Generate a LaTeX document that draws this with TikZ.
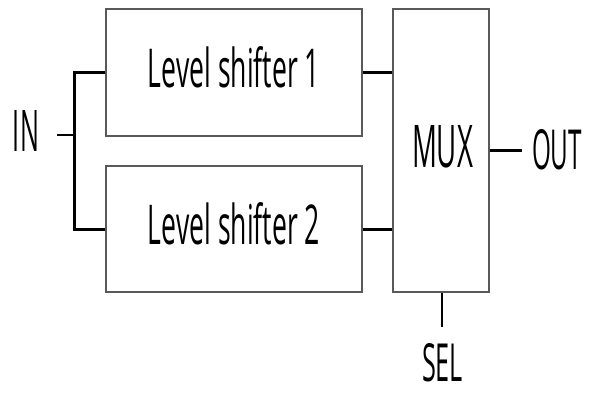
\documentclass[tikz,border=0pt]{standalone}
\usepackage{fontspec}
\setmainfont{Open Sans}
\usepackage{graphicx}
\newcommand\fittext[3]{\resizebox{#1pt}{#2pt}{#3}}
\begin{document}
\begin{tikzpicture}[x=1pt,y=-1pt,
  blk/.style={draw=black!65,line width=1.3pt,rectangle,inner sep=0pt,fill=none},
  lbl/.style={inner sep=0pt,outer sep=0pt},
  wire/.style={line width=3pt,black},
  thinwire/.style={line width=1.4pt,black}]
\useasboundingbox (0,0) rectangle (589,392);
\node[blk,minimum width=256pt,minimum height=127pt] (b1) at (234,72.5) {};
\node[blk,minimum width=256pt,minimum height=126pt] (b2) at (234,229) {};
\node[blk,minimum width=96pt,minimum height=283pt] (mux) at (441,150.5) {};
\node[lbl] (t1) at (234,67.5) {\fittext{172}{41}{Level shifter 1}};
\node[lbl] (t2) at (234,224) {\fittext{172}{42}{Level shifter 2}};
\node[lbl] (tm) at (442.5,147) {\fittext{61}{42}{MUX}};
\node[lbl] (in) at (26,131) {\fittext{26}{41}{IN}};
\node[lbl] (out) at (557,150) {\fittext{50}{40}{OUT}};
\node[lbl] (sel) at (442.5,363) {\fittext{41}{38}{SEL}};
\coordinate (s0) at (57,135);
\coordinate (split) at (74,135);
\coordinate (oend) at (522,150);
\coordinate (send) at (442,327);
\draw[wire] (b1.west) -- (split |- b1.west) |- (b2.west);
\draw[thinwire] (s0) -- (split);
\draw[wire] (b1.east) -- (b1.east -| mux.west);
\draw[wire] (b2.east) -- (b2.east -| mux.west);
\draw[wire] (mux.east |- oend) -- (oend);
\draw[thinwire] (send |- mux.south) -- (send);
\end{tikzpicture}
\end{document}
